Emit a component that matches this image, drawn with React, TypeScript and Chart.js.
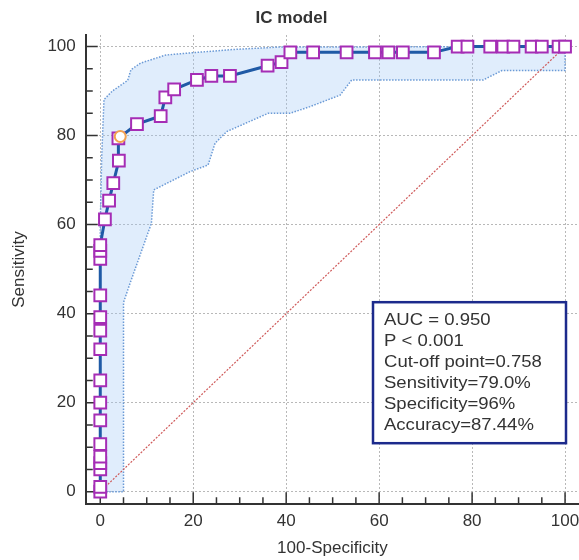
import React, { useEffect, useRef } from "react";
import { Chart, registerables } from "chart.js";

Chart.register(...registerables);

// ROC curve (100-Specificity, Sensitivity)
const rocX = [0, 0, 0, 0, 0, 0, 0, 0, 0, 0, 0, 0, 0, 0, 0, 0,
  1.0, 1.9, 2.8, 4.0, 3.9, 7.9, 13.0, 14.0, 15.9, 20.8, 23.9, 27.9, 36.0, 39.0,
  40.9, 45.8, 53.0, 59.1, 62.0, 65.1, 71.8, 76.9, 79.0, 83.9, 86.7, 88.9, 92.8, 95.0, 98.6, 100];
const rocY = [0, 1.1, 5.0, 6.4, 7.9, 10.7, 16.0, 20.0, 25.0, 32.0, 36.2, 39.2, 44.1, 52.3, 54.1, 55.4,
  61.2, 65.4, 69.3, 74.4, 79.4, 82.6, 84.4, 88.6, 90.4, 92.5, 93.4, 93.4, 95.7, 96.5,
  98.7, 98.7, 98.7, 98.7, 98.7, 98.7, 98.7, 100, 100, 100, 100, 100, 100, 100, 100, 100];

// 95% confidence bounds
const upperX = [0, 0, 0.3, 0.8, 2.6, 5.9, 6.6, 8.7, 14.1, 19.8, 27.9, 38.6, 100];
const upperY = [0, 60, 75, 88.1, 90.0, 92.4, 94.8, 96.3, 98.1, 98.6, 99.3, 99.9, 100];
const lowerX = [0, 5.0, 5.0, 6.4, 11.0, 11.5, 19.3, 23.2, 24.7, 27.2, 36.1, 40.8, 45.1, 51.6, 54.1, 82.4, 86.4, 100, 100];
const lowerY = [0, 0, 42.5, 46.8, 60.3, 67.8, 71.9, 73.4, 78.3, 80.9, 85.0, 85.0, 86.5, 89.1, 92.5, 92.5, 94.6, 94.6, 100];

// reference diagonal
const diagX = [0, 100];
const diagY = [0, 100];

// cut-off point
const cutX = [4.3];
const cutY = [79.8];

const majorTicks = [0, 20, 40, 60, 80, 100];
const minorTicks = [0, 5, 10, 15, 20, 25, 30, 35, 40, 45, 50, 55, 60, 65, 70, 75, 80, 85, 90, 95, 100];

const statsLines = [
  "AUC = 0.950",
  "P < 0.001",
  "Cut-off point=0.758",
  "Sensitivity=79.0%",
  "Specificity=96%",
  "Accuracy=87.44%",
];

const titleText = "IC model";
const xTitle = "100-Specificity";
const yTitle = "Sensitivity";

const FONT = "'Liberation Sans', Arial, sans-serif";
const TXT = "#333333";

const pts = (xs: number[], ys: number[]) => xs.map((x, i) => ({ x, y: ys[i] }));

const inwardTicks = {
  id: "inwardTicks",
  beforeDatasetsDraw(chart: any) {
    const { ctx, chartArea, scales } = chart;
    const x = scales.x;
    const y = scales.y;
    ctx.save();
    ctx.strokeStyle = "#333";
    ctx.lineWidth = 1.5;
    ctx.beginPath();
    for (const v of minorTicks) {
      const len = majorTicks.includes(v) ? 12 : 7;
      const px = x.getPixelForValue(v);
      ctx.moveTo(px, chartArea.bottom);
      ctx.lineTo(px, chartArea.bottom - len);
      const py = y.getPixelForValue(v);
      ctx.moveTo(chartArea.left, py);
      ctx.lineTo(chartArea.left + len, py);
    }
    ctx.stroke();
    ctx.restore();
  },
};

const statsBox = {
  id: "statsBox",
  afterDatasetsDraw(chart: any) {
    const { ctx, chartArea } = chart;
    const w = 193;
    const h = 141;
    const left = chartArea.right - 13 - w;
    const top = chartArea.bottom - 61 - h;
    ctx.save();
    ctx.fillStyle = "#ffffff";
    ctx.fillRect(left, top, w, h);
    ctx.strokeStyle = "#1c2a8c";
    ctx.lineWidth = 2.5;
    ctx.strokeRect(left, top, w, h);
    ctx.fillStyle = TXT;
    ctx.font = `17px ${FONT}`;
    ctx.textBaseline = "alphabetic";
    ctx.textAlign = "left";
    statsLines.forEach((line, i) => {
      ctx.save();
      ctx.translate(left + 11, top + 23 + i * 21);
      ctx.scale(1.09, 1);
      ctx.fillText(line, 0, 0);
      ctx.restore();
    });
    ctx.restore();
  },
};

const noEdgePadding = (scale: any) => {
  scale.paddingLeft = 0;
  scale.paddingRight = 0;
  scale.paddingTop = 0;
  scale.paddingBottom = 0;
};

export default function App() {
  const ref = useRef<HTMLCanvasElement | null>(null);

  useEffect(() => {
    if (!ref.current) return;
    const tickFont = { family: FONT, size: 17 };
    const chart = new Chart(ref.current, {
      type: "line",
      data: {
        datasets: [
          {
            label: "cut-off",
            data: pts(cutX, cutY),
            showLine: false,
            pointRadius: 5.5,
            pointBorderWidth: 2,
            pointBorderColor: "#f3a24e",
            pointBackgroundColor: "#ffffff",
            pointStyle: "circle",
          },
          {
            label: "ROC",
            data: pts(rocX, rocY),
            borderColor: "#1f5aa6",
            borderWidth: 3,
            pointStyle: "rect",
            pointRadius: 8.3,
            pointBorderWidth: 2,
            pointBorderColor: "#a52db5",
            pointBackgroundColor: "#ffffff",
            fill: false,
          },
          {
            label: "diag",
            data: pts(diagX, diagY),
            borderColor: "#cf5a5a",
            borderWidth: 1.2,
            borderDash: [2, 1.5],
            pointRadius: 0,
            fill: false,
          },
          {
            label: "upper",
            data: pts(upperX, upperY),
            borderColor: "#6b9ad6",
            borderWidth: 1.5,
            borderDash: [1.5, 1.5],
            pointRadius: 0,
            fill: false,
          },
          {
            label: "lower",
            data: pts(lowerX, lowerY),
            borderColor: "#6b9ad6",
            borderWidth: 1.5,
            borderDash: [1.5, 1.5],
            pointRadius: 0,
            fill: "-1",
            backgroundColor: "rgba(160, 200, 245, 0.33)",
          },
        ],
      },
      options: {
        animation: false,
        responsive: false,
        devicePixelRatio: 1,
        layout: { autoPadding: false, padding: { left: 4, right: 0, top: 0, bottom: 0 } },
        elements: { line: { tension: 0 } },
        plugins: {
          legend: { display: false },
          tooltip: { enabled: false },
          title: {
            display: true,
            text: titleText,
            color: TXT,
            font: { family: FONT, size: 17, weight: "bold" },
            padding: { top: 8, bottom: 6.6 },
          },
        },
        scales: {
          x: {
            type: "linear",
            min: -3.12,
            max: 103,
            afterBuildTicks: (ax: any) => {
              ax.ticks = majorTicks.map((v) => ({ value: v }));
            },
            afterFit: noEdgePadding,
            ticks: { padding: 7, font: tickFont, color: TXT, maxRotation: 0, autoSkip: false },
            grid: { color: "#b8b8b8", lineWidth: 1, drawTicks: false, tickLength: 0 },
            border: { display: true, color: "#333", width: 2, dash: [2, 2] },
            title: {
              display: true,
              text: xTitle,
              color: TXT,
              font: tickFont,
              padding: { top: 0, bottom: 1 },
            },
          },
          y: {
            type: "linear",
            min: -2.81,
            max: 102.6,
            afterBuildTicks: (ax: any) => {
              ax.ticks = majorTicks.map((v) => ({ value: v }));
            },
            afterFit: noEdgePadding,
            ticks: { padding: 10, font: tickFont, color: TXT, autoSkip: false },
            grid: { color: "#b8b8b8", lineWidth: 1, drawTicks: false, tickLength: 0 },
            border: { display: true, color: "#333", width: 2, dash: [2, 2] },
            title: {
              display: true,
              text: yTitle,
              color: TXT,
              font: tickFont,
              padding: { top: 5, bottom: 8 },
            },
          },
        },
      },
      plugins: [inwardTicks, statsBox],
    } as any);
    return () => chart.destroy();
  }, []);

  return (
    <div style={{ position: "fixed", left: 0, top: 0, width: 579, height: 560, background: "#fff" }}>
      <canvas ref={ref} width={579} height={560} style={{ display: "block", width: 579, height: 560 }} />
    </div>
  );
}
